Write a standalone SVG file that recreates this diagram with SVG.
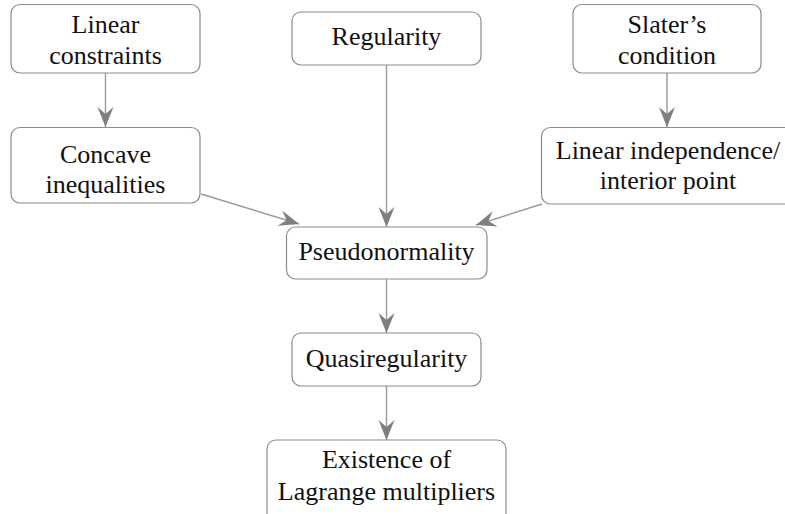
<svg xmlns="http://www.w3.org/2000/svg" width="785" height="514" viewBox="0 0 785 514">
<style>
.box{fill:#fff;stroke:#8c8c8c;stroke-width:1.2}
.t{font-family:"Liberation Serif","DejaVu Serif",serif;font-size:26px;fill:#111;text-anchor:middle}
.e{fill:none;stroke:#999;stroke-width:1.4;marker-end:url(#ah)}
</style>
<defs>
<marker id="ah" markerUnits="userSpaceOnUse" markerWidth="24" markerHeight="20" viewBox="-21 -10 22 20" refX="0" refY="0" orient="auto">
<path d="M0,0 L-20,-8 L-13,0 L-20,8 Z" fill="#7f7f7f"/>
</marker>
</defs>
<rect width="785" height="514" fill="#fff"/>
<g id="edges">
<line class="e" x1="105.5" y1="73" x2="105.5" y2="127"/>
<line class="e" x1="386.5" y1="65" x2="386.5" y2="227"/>
<line class="e" x1="667" y1="73" x2="667" y2="127"/>
<line class="e" x1="201" y1="194" x2="299" y2="224"/>
<line class="e" x1="542" y1="204" x2="476" y2="225"/>
<line class="e" x1="386.5" y1="279" x2="386.5" y2="333"/>
<line class="e" x1="386.5" y1="386" x2="386.5" y2="440"/>
</g>
<g id="linear-constraints">
<rect class="box" x="11" y="4.5" width="189" height="68.5" rx="9"/>
<text class="t" x="105.5" y="33">Linear</text>
<text class="t" x="105.5" y="64">constraints</text>
</g>
<g id="regularity">
<rect class="box" x="292" y="12" width="189" height="53" rx="9"/>
<text class="t" x="386.5" y="45">Regularity</text>
</g>
<g id="slaters-condition">
<rect class="box" x="573" y="4.5" width="188" height="68.5" rx="9"/>
<text class="t" x="667" y="33">Slater’s</text>
<text class="t" x="667" y="64">condition</text>
</g>
<g id="concave-inequalities">
<rect class="box" x="11" y="127.5" width="189" height="75.5" rx="9"/>
<text class="t" x="105.5" y="163">Concave</text>
<text class="t" x="105.5" y="193">inequalities</text>
</g>
<g id="linear-independence">
<rect class="box" x="541.5" y="127.5" width="252" height="76.5" rx="9"/>
<text class="t" x="668" y="159">Linear independence/</text>
<text class="t" x="668" y="189">interior point</text>
</g>
<g id="pseudonormality">
<rect class="box" x="286.5" y="227" width="200.5" height="52" rx="9"/>
<text class="t" x="386.5" y="260">Pseudonormality</text>
</g>
<g id="quasiregularity">
<rect class="box" x="292" y="333" width="189" height="53" rx="9"/>
<text class="t" x="386.5" y="367">Quasiregularity</text>
</g>
<g id="existence">
<rect class="box" x="267" y="440" width="239" height="85" rx="9"/>
<text class="t" x="386.5" y="468">Existence of</text>
<text class="t" x="386.5" y="500">Lagrange multipliers</text>
</g>
</svg>
